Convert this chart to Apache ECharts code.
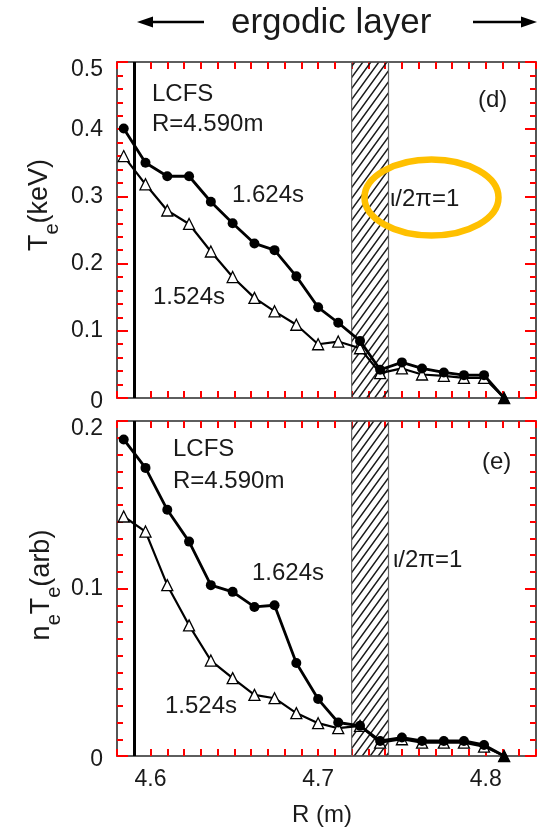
<!DOCTYPE html>
<html>
<head>
<meta charset="utf-8">
<script src="https://cdn.jsdelivr.net/npm/echarts@6/dist/echarts.min.js"></script>
<style>
  html, body { margin: 0; padding: 0; background: #fff; }
  #chart { width: 546px; height: 828px; }
</style>
</head>
<body>
<div id="chart"></div>
<script>
// Major radius of each measurement channel (m)
var radius = [4.584, 4.597, 4.610, 4.623, 4.636, 4.649, 4.662, 4.674, 4.687, 4.700,
              4.712, 4.725, 4.737, 4.750, 4.762, 4.775, 4.787, 4.799, 4.811];

// Electron temperature (keV)
var te1624 = [0.401, 0.350, 0.330, 0.330, 0.292, 0.260, 0.230, 0.220, 0.181, 0.135,
              0.112, 0.085, 0.042, 0.053, 0.044, 0.038, 0.034, 0.034, 0.000];
var te1524 = [0.360, 0.318, 0.279, 0.259, 0.218, 0.180, 0.149, 0.129, 0.109, 0.080,
              0.084, 0.074, 0.037, 0.044, 0.035, 0.033, 0.030, 0.030, 0.000];

// Electron pressure n_e T_e (arb. units)
var p1624 = [0.189, 0.172, 0.147, 0.128, 0.102, 0.098, 0.089, 0.090, 0.0555, 0.034,
             0.020, 0.018, 0.009, 0.011, 0.009, 0.009, 0.009, 0.0066, 0.000];
var p1524 = [0.143, 0.134, 0.102, 0.078, 0.057, 0.0465, 0.0365, 0.0345, 0.0256, 0.0196,
             0.0166, 0.018, 0.008, 0.010, 0.008, 0.008, 0.008, 0.0056, 0.000];

// Last closed flux surface and the hatched rational-surface band
var lcfsR = 4.590;
var band = [4.720, 4.742];

// Axis ranges, tick steps and tick labels
var xRange = [4.58, 4.83];
var xMinorStep = 0.01;
var xTickLabels = ['4.6', '4.7', '4.8'];
var teRange = [0, 0.5];
var pRange = [0, 0.2];
var yMajorStep = 0.1;
var teMinorSplit = 5;
var pMinorSplit = 10;
var teTickLabels = ['0', '0.1', '0.2', '0.3', '0.4', '0.5'];
var pTickLabels = ['0', '0.1', '0.2'];

var FONT = 'Liberation Sans, Arial, sans-serif';
var INK = '#1a1a1a';
var FRAME = '#2a2a2a';
var TICK = 'red';

function pairs(xs, ys) {
  return xs.map(function (x, i) { return [x, ys[i]]; });
}
function isMultiple(v, step) {
  var q = v / step;
  return Math.abs(q - Math.round(q)) < 1e-6;
}

// Diagonal hatch tile
function hatchPattern() {
  var w = 8, h = 11;
  var c = document.createElement('canvas');
  c.width = w; c.height = h;
  var g = c.getContext('2d');
  g.strokeStyle = '#1a1a1a';
  g.lineWidth = 1.5;
  g.beginPath();
  g.moveTo(-w, 2 * h); g.lineTo(2 * w, -h);
  g.moveTo(-2 * w, 2 * h); g.lineTo(w, -h);
  g.moveTo(0, 2 * h); g.lineTo(3 * w, -h);
  g.stroke();
  return { image: c, repeat: 'repeat' };
}
var hatch = hatchPattern();

function xLabelFormatter(v) {
  var s = v.toFixed(1);
  return (isMultiple(v, 0.1) && xTickLabels.indexOf(s) >= 0) ? s : '';
}
function yLabelFormatter(list, top) {
  return function (v) {
    var s = v === 0 ? '0' : v.toFixed(1);
    if (list.indexOf(s) < 0) return '';
    if (s === top) return '{hi|' + s + '}';
    if (s === '0') return '{lo|' + s + '}';
    return s;
  };
}

function xAxisDef(gridIndex, position, showLabels) {
  return {
    type: 'value', gridIndex: gridIndex, position: position,
    min: xRange[0], max: xRange[1], interval: xMinorStep,
    axisLine: { show: true, onZero: false, lineStyle: { color: FRAME, width: 1.6 } },
    axisTick: { show: true, inside: true, length: 7, lineStyle: { color: TICK, width: 2 } },
    axisLabel: { show: showLabels, margin: 12, fontFamily: FONT, fontSize: 23, color: INK,
                 formatter: xLabelFormatter },
    splitLine: { show: false }
  };
}
function yAxisDef(gridIndex, position, range, split, labels, showLabels) {
  var top = range[1].toFixed(1);
  return {
    type: 'value', gridIndex: gridIndex, position: position,
    min: range[0], max: range[1], interval: yMajorStep,
    axisLine: { show: true, onZero: false, lineStyle: { color: FRAME, width: 1.6 } },
    axisTick: { show: true, inside: true, length: 11, lineStyle: { color: TICK, width: 2 } },
    minorTick: { show: true, splitNumber: split, length: 6, lineStyle: { color: TICK, width: 2 } },
    axisLabel: { show: showLabels, margin: 14, fontFamily: FONT, fontSize: 23, color: INK,
                 formatter: yLabelFormatter(labels, top),
                 rich: {
                   hi: { fontFamily: FONT, fontSize: 23, color: INK, padding: [15, 0, 0, 0] },
                   lo: { fontFamily: FONT, fontSize: 23, color: INK, padding: [7, 0, 0, 0] }
                 } },
    splitLine: { show: false }
  };
}

function bandSeries(xi, yi) {
  return {
    type: 'custom', xAxisIndex: xi, yAxisIndex: yi, silent: true, z: 1,
    data: [band],
    renderItem: function (params, api) {
      var cs = params.coordSys;
      var x0 = api.coord([api.value(0), 0])[0];
      var x1 = api.coord([api.value(1), 0])[0];
      return {
        type: 'rect',
        shape: { x: x0, y: cs.y, width: x1 - x0, height: cs.height },
        style: { fill: hatch, stroke: '#666', lineWidth: 1.2 }
      };
    }
  };
}

function lcfsLine() {
  return {
    silent: true, symbol: ['none', 'none'], animation: false,
    label: { show: false },
    lineStyle: { color: '#000', width: 3, type: 'solid' },
    data: [{ xAxis: lcfsR }]
  };
}

function openSeries(name, xi, yi, ys) {
  return {
    name: name, type: 'line', xAxisIndex: xi, yAxisIndex: yi, z: 3,
    data: pairs(radius, ys),
    symbol: 'triangle', symbolSize: 11,
    lineStyle: { color: '#000', width: 2.2 },
    itemStyle: { color: '#fff', borderColor: '#000', borderWidth: 1.3 },
    clip: false, animation: false
  };
}
function filledSeries(name, xi, yi, ys) {
  var d = pairs(radius, ys).map(function (p, i) {
    // the edge point where both profiles meet is marked with a solid triangle
    return i === radius.length - 1 ? { value: p, symbol: 'triangle', symbolSize: 12 } : p;
  });
  return {
    name: name, type: 'line', xAxisIndex: xi, yAxisIndex: yi, z: 4,
    data: d,
    symbol: 'circle', symbolSize: 10,
    lineStyle: { color: '#000', width: 2.8 },
    itemStyle: { color: '#000', borderColor: '#000', borderWidth: 0 },
    markLine: lcfsLine(),
    clip: false, animation: false
  };
}

function txt(x, y, s, size, align) {
  return {
    type: 'text', x: x, y: y, z: 100, silent: true,
    style: { text: s, fontFamily: FONT, fontSize: size || 24, fill: INK,
             align: align || 'left', verticalAlign: 'middle' }
  };
}
function arrow(x0, x1, y, dir) {
  var tip = dir < 0 ? x0 : x1;
  var base = tip - dir * 16;
  return [
    { type: 'line', z: 100, silent: true,
      shape: dir < 0 ? { x1: base, y1: y, x2: x1, y2: y } : { x1: x0, y1: y, x2: base, y2: y },
      style: { stroke: '#000', lineWidth: 2.5 } },
    { type: 'polygon', z: 100, silent: true,
      shape: { points: [[tip, y], [base, y - 5.5], [base, y + 5.5]] },
      style: { fill: '#000' } }
  ];
}
function axisName(x, y, parts) {
  var rich = {
    n: { fontFamily: FONT, fontSize: 27, fill: INK, lineHeight: 36 },
    s: { fontFamily: FONT, fontSize: 20, fill: INK, lineHeight: 36, verticalAlign: 'bottom', padding: [0, 0, -4, 0] }
  };
  return {
    type: 'text', x: x, y: y, rotation: Math.PI / 2, z: 100, silent: true,
    style: { text: parts, rich: rich, align: 'center', verticalAlign: 'middle' }
  };
}

var chart = echarts.init(document.getElementById('chart'));

var graphics = []
  .concat(arrow(137, 204, 22, -1))
  .concat(arrow(473, 537, 22, 1))
  .concat([
    txt(231, 23, 'ergodic layer', 35),
    txt(152, 94, 'LCFS', 24),
    txt(152, 124, 'R=4.590m', 24),
    txt(232, 195, '1.624s', 24),
    txt(153, 297, '1.524s', 24),
    txt(478, 100, '(d)', 24),
    txt(390, 199, 'ι/2π=1', 24),
    { type: 'ellipse', z: 101, silent: true,
      shape: { cx: 431.5, cy: 197.5, rx: 67, ry: 38 },
      style: { fill: 'none', stroke: '#FFC000', lineWidth: 6.5 } },
    txt(173, 449, 'LCFS', 24),
    txt(173, 481, 'R=4.590m', 24),
    txt(252, 573, '1.624s', 24),
    txt(165, 706, '1.524s', 24),
    txt(482, 462, '(e)', 24),
    txt(393, 560, 'ι/2π=1', 24),
    axisName(40, 205, '{n|T}{s|e}{n|(keV)}'),
    axisName(42, 585, '{n|n}{s|e}{n|T}{s|e}{n|(arb)}'),
    txt(322, 815, 'R (m)', 24, 'center')
  ]);

chart.setOption({
  backgroundColor: '#fff',
  animation: false,
  grid: [
    { left: 117, top: 62, width: 419, height: 336 },
    { left: 117, top: 421, width: 419, height: 335 }
  ],
  xAxis: [
    xAxisDef(0, 'bottom', false),
    xAxisDef(0, 'top', false),
    xAxisDef(1, 'bottom', true),
    xAxisDef(1, 'top', false)
  ],
  yAxis: [
    yAxisDef(0, 'left', teRange, teMinorSplit, teTickLabels, true),
    yAxisDef(0, 'right', teRange, teMinorSplit, teTickLabels, false),
    yAxisDef(1, 'left', pRange, pMinorSplit, pTickLabels, true),
    yAxisDef(1, 'right', pRange, pMinorSplit, pTickLabels, false)
  ],
  series: [
    bandSeries(0, 0),
    bandSeries(2, 2),
    openSeries('1.524s', 0, 0, te1524),
    filledSeries('1.624s', 0, 0, te1624),
    openSeries('1.524s', 2, 2, p1524),
    filledSeries('1.624s', 2, 2, p1624)
  ],
  graphic: graphics
});
</script>
</body>
</html>
